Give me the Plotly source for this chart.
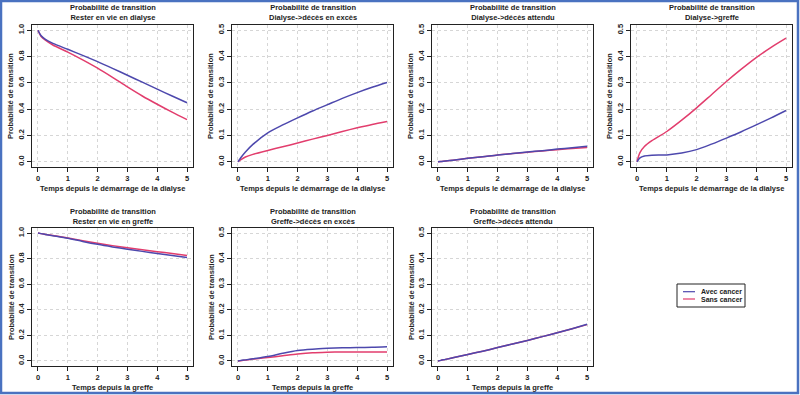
import plotly.graph_objects as go

# ---------------- data ----------------
temps = [0, 0.1, 0.25, 0.5, 1, 1.5, 2, 2.5, 3, 3.5, 4, 4.5, 5]

p1_avec = [1.0, 0.96, 0.93, 0.90, 0.855, 0.809, 0.761, 0.71, 0.658, 0.605, 0.552, 0.50, 0.449]
p1_sans = [1.0, 0.955, 0.925, 0.888, 0.834, 0.775, 0.712, 0.642, 0.569, 0.5, 0.437, 0.377, 0.32]

p2_avec = [0, 0.016, 0.037, 0.066, 0.11, 0.14, 0.167, 0.193, 0.217, 0.241, 0.263, 0.283, 0.301]
p2_sans = [0, 0.008, 0.018, 0.028, 0.043, 0.057, 0.071, 0.086, 0.10, 0.115, 0.129, 0.142, 0.153]

p3_avec = [0, 0.001, 0.003, 0.006, 0.013, 0.019, 0.026, 0.031, 0.037, 0.042, 0.048, 0.053, 0.059]
p3_sans = [0, 0.001, 0.003, 0.006, 0.013, 0.019, 0.026, 0.031, 0.036, 0.041, 0.046, 0.050, 0.054]

p4_avec = [0, 0.015, 0.022, 0.025, 0.026, 0.033, 0.046, 0.067, 0.09, 0.114, 0.14, 0.167, 0.195]
p4_sans = [0, 0.035, 0.058, 0.08, 0.115, 0.158, 0.205, 0.255, 0.305, 0.352, 0.396, 0.435, 0.47]

p5_avec = [1.0, 0.996, 0.99, 0.98, 0.96, 0.935, 0.912, 0.892, 0.874, 0.857, 0.84, 0.825, 0.81]
p5_sans = [1.0, 0.996, 0.99, 0.981, 0.962, 0.94, 0.92, 0.902, 0.885, 0.87, 0.855, 0.84, 0.825]

p6_avec = [0, 0.002, 0.004, 0.008, 0.017, 0.03, 0.041, 0.046, 0.049, 0.051, 0.052, 0.053, 0.055]
p6_sans = [0, 0.001, 0.003, 0.007, 0.013, 0.02, 0.027, 0.032, 0.034, 0.035, 0.035, 0.035, 0.035]

p7_avec = [0, 0.002, 0.006, 0.012, 0.025, 0.038, 0.052, 0.066, 0.08, 0.095, 0.11, 0.126, 0.143]
p7_sans = [0, 0.002, 0.006, 0.012, 0.025, 0.038, 0.052, 0.066, 0.08, 0.095, 0.11, 0.126, 0.142]

titres = [
    "Rester en vie en dialyse",
    "Dialyse->décès en excès",
    "Dialyse->décès attendu",
    "Dialyse->greffe",
    "Rester en vie en greffe",
    "Greffe->décès en excès",
    "Greffe->décès attendu",
]
xtitres = ["Temps depuis le démarrage de la dialyse"] * 4 + ["Temps depuis la greffe"] * 3
series_avec = [p1_avec, p2_avec, p3_avec, p4_avec, p5_avec, p6_avec, p7_avec]
series_sans = [p1_sans, p2_sans, p3_sans, p4_sans, p5_sans, p6_sans, p7_sans]
ymax = [1.0, 0.5, 0.5, 0.5, 1.0, 0.5, 0.5]
x_ticks = [0, 1, 2, 3, 4, 5]
legende = ["Avec cancer", "Sans cancer"]

# ---------------- layout geometry (pixels) ----------------
W, H = 800, 395
col_left = [32, 232, 432, 631]
col_w = 161
row_top = [25, 228]
row_bot = [167, 366]

BLUE = "#4d48ad"
RED = "#e23d6d"
FONT = "Liberation Sans, Arial, sans-serif"
TXT = "#222"

fig = go.Figure()
annotations = []
shapes = []
layout = {}

for i in range(7):
    r, c = (0, i) if i < 4 else (1, i - 4)
    k = i + 1
    xa = "x" if k == 1 else f"x{k}"
    ya = "y" if k == 1 else f"y{k}"
    x0 = col_left[c] / W
    x1 = (col_left[c] + col_w) / W
    y0 = 1 - row_bot[r] / H
    y1 = 1 - row_top[r] / H

    fig.add_trace(go.Scatter(
        x=temps, y=series_sans[i], mode="lines",
        line=dict(color=RED, width=1.5, shape="spline", smoothing=0.8),
        name=legende[1], showlegend=False, xaxis=xa, yaxis=ya))
    fig.add_trace(go.Scatter(
        x=temps, y=series_avec[i], mode="lines",
        line=dict(color=BLUE, width=1.5, shape="spline", smoothing=0.8),
        name=legende[0], showlegend=False, xaxis=xa, yaxis=ya))

    ym = ymax[i]
    step = 0.2 if ym == 1.0 else 0.1
    yticks = [round(j * step, 1) for j in range(int(round(ym / step)) + 1)]
    common = dict(
        showline=True, mirror=True, linecolor=TXT, linewidth=1,
        ticks="outside", ticklen=4, tickcolor=TXT, tickwidth=1,
        showgrid=True, gridcolor="#d6d6d6", griddash="dot", gridwidth=1,
        zeroline=False,
        tickfont=dict(family=FONT, size=7.5, color=TXT, weight="bold"),
    )
    layout[f"xaxis{k if k > 1 else ''}"] = dict(
        domain=[x0, x1], anchor=ya, range=[-0.2, 5.2], tickvals=x_ticks, **common)
    layout[f"yaxis{k if k > 1 else ''}"] = dict(
        domain=[y0, y1], anchor=xa, range=[-0.04 * ym, 1.04 * ym], tickvals=yticks,
        ticktext=[f"{v:.1f}" for v in yticks], tickangle=-90, **common)

    cx = (col_left[c] + col_w / 2) / W
    annotations.append(dict(
        x=cx, y=1 - (row_top[r] - 12) / H, xref="paper", yref="paper",
        text="Probabilité de transition<br>" + titres[i], showarrow=False,
        xanchor="center", yanchor="middle",
        font=dict(family=FONT, size=7.5, color=TXT, weight="bold")))
    annotations.append(dict(
        x=cx, y=1 - (row_bot[r] + 21) / H, xref="paper", yref="paper",
        text=xtitres[i], showarrow=False, xanchor="center", yanchor="middle",
        font=dict(family=FONT, size=7.5, color=TXT, weight="bold")))
    annotations.append(dict(
        x=(col_left[c] - 21) / W, y=1 - ((row_top[r] + row_bot[r]) / 2) / H,
        xref="paper", yref="paper", text="Probabilité de transition", textangle=-90,
        showarrow=False, xanchor="center", yanchor="middle",
        font=dict(family=FONT, size=7.5, color=TXT, weight="bold")))

# ---------------- legend (drawn as a small boxed key) ----------------
leg_x0, leg_x1, leg_y0, leg_y1 = 677, 745, 284, 307
shapes.append(dict(type="rect", xref="paper", yref="paper",
                   x0=leg_x0 / W, x1=leg_x1 / W, y0=1 - leg_y1 / H, y1=1 - leg_y0 / H,
                   line=dict(color=TXT, width=1), fillcolor="white"))
for j, (name, col) in enumerate(zip(legende, [BLUE, RED])):
    yy = 291.7 + j * 7.3
    shapes.append(dict(type="line", xref="paper", yref="paper",
                       x0=683 / W, x1=695 / W, y0=1 - yy / H, y1=1 - yy / H,
                       line=dict(color=col, width=1.2)))
    annotations.append(dict(x=699 / W, y=1 - yy / H, xref="paper", yref="paper",
                            text=name, showarrow=False, xanchor="left", yanchor="middle",
                            font=dict(family=FONT, size=7, color=TXT, weight="bold")))

# outer blue frame
shapes.append(dict(type="rect", xref="paper", yref="paper", x0=1 / W, x1=1 - 2 / W, y0=2 / H, y1=1 - 1 / H,
                   line=dict(color="#4a72c0", width=2.5), fillcolor="rgba(0,0,0,0)"))

fig.update_layout(
    width=W, height=H, margin=dict(l=0, r=0, t=0, b=0),
    paper_bgcolor="white", plot_bgcolor="white",
    annotations=annotations, shapes=shapes, showlegend=False,
    **layout,
)

fig.write_html("out.html", config={"displayModeBar": False},
               post_script="document.body.style.margin='0';document.body.style.overflow='hidden';")
